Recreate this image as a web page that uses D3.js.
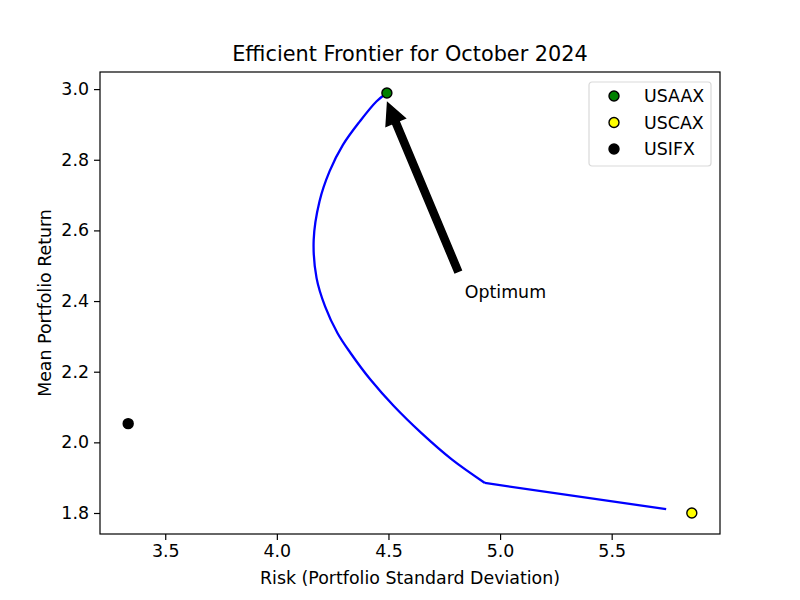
<!DOCTYPE html>
<html>
<head>
<meta charset="utf-8">
<script src="https://cdnjs.cloudflare.com/ajax/libs/d3/7.8.5/d3.min.js"></script>
<style>
  body { margin: 0; background: #fff; }
  text { font-family: "DejaVu Sans", sans-serif; fill: #000; }
</style>
</head>
<body>
<div id="chart"></div>
<script>
// frontier (risk, return); the last point is joined by a straight segment
var frontierRisk   = [4.493, 4.446, 4.371, 4.296, 4.236, 4.191, 4.165, 4.178, 4.216, 4.272, 4.330, 4.420, 4.525, 4.648, 4.785, 4.932, 5.744];
var frontierReturn = [2.989, 2.965, 2.908, 2.842, 2.767, 2.682, 2.573, 2.465, 2.385, 2.309, 2.253, 2.177, 2.102, 2.026, 1.951, 1.885, 1.811];

// single funds
var funds      = ["USAAX", "USCAX", "USIFX"];
var fundRisk   = [4.493, 5.859, 3.334];
var fundReturn = [2.989, 1.800, 2.053];
var fundColors = ["green", "yellow", "black"];

var xTicks = [3.5, 4.0, 4.5, 5.0, 5.5];
var yTicks = [1.8, 2.0, 2.2, 2.4, 2.6, 2.8, 3.0];

// annotation: arrow tail / tip and label position
var arrowFrom = [4.812, 2.484];
var arrowTo   = [4.496, 2.961];
var optimumText = [4.842, 2.409];

var margin = {top: 72, right: 80, bottom: 66, left: 100},
    width = 800 - margin.left - margin.right,
    height = 600 - margin.top - margin.bottom;

var fs = 17.4; // 10pt at 125 dpi

var svg = d3.select("#chart")
  .append("svg")
    .attr("width", 800)
    .attr("height", 600)
  .append("g")
    .attr("transform", "translate(" + margin.left + "," + margin.top + ")");

// matplotlib style 5% padding around the data
var allX = frontierRisk.concat(fundRisk),
    allY = frontierReturn.concat(fundReturn);
var xMin = d3.min(allX), xMax = d3.max(allX),
    yMin = d3.min(allY), yMax = d3.max(allY);
var xPad = (xMax - xMin) * 0.05, yPad = (yMax - yMin) * 0.05;

var x = d3.scaleLinear().domain([xMin - xPad, xMax + xPad]).range([0, width]);
var y = d3.scaleLinear().domain([yMin - yPad, yMax + yPad]).range([height, 0]);

// axes
var xAxis = svg.append("g")
  .attr("transform", "translate(0," + height + ")")
  .call(d3.axisBottom(x).tickValues(xTicks).tickFormat(d3.format(".1f")).tickSize(6).tickPadding(5));
var yAxis = svg.append("g")
  .call(d3.axisLeft(y).tickValues(yTicks).tickFormat(d3.format(".1f")).tickSize(6).tickPadding(5));
[xAxis, yAxis].forEach(function(a) {
  a.select(".domain").remove();
  a.selectAll("text").style("font-size", fs + "px").style("font-family", "'DejaVu Sans', sans-serif");
  a.selectAll("line").attr("stroke", "#000").attr("stroke-width", 1.2);
});

// frontier: smooth part plus the straight last segment
var pts = frontierRisk.map(function(d, i) { return [d, frontierReturn[i]]; });
var n = pts.length;
var lineSmooth = d3.line().curve(d3.curveCatmullRom.alpha(0.5))
  .x(function(d) { return x(d[0]); }).y(function(d) { return y(d[1]); });
var lineStraight = d3.line()
  .x(function(d) { return x(d[0]); }).y(function(d) { return y(d[1]); });
svg.append("path")
  .datum(pts.slice(0, n - 1))
  .attr("fill", "none")
  .attr("stroke", "#0000ff")
  .attr("stroke-width", 2.3)
  .attr("d", lineSmooth);
svg.append("path")
  .datum(pts.slice(n - 2))
  .attr("fill", "none")
  .attr("stroke", "#0000ff")
  .attr("stroke-width", 2.3)
  .attr("stroke-linejoin", "round")
  .attr("d", lineStraight);

// fund points
svg.selectAll("circle.fund")
  .data(funds)
  .enter()
  .append("circle")
    .attr("class", "fund")
    .attr("cx", function(d, i) { return x(fundRisk[i]); })
    .attr("cy", function(d, i) { return y(fundReturn[i]); })
    .attr("r", 5)
    .attr("fill", function(d, i) { return fundColors[i]; })
    .attr("stroke", "#000")
    .attr("stroke-width", 1.4);

// arrow for the optimum
var ax0 = x(arrowFrom[0]), ay0 = y(arrowFrom[1]),
    ax1 = x(arrowTo[0]), ay1 = y(arrowTo[1]);
var len = Math.sqrt((ax1 - ax0) * (ax1 - ax0) + (ay1 - ay0) * (ay1 - ay0));
var ang = Math.atan2(ay1 - ay0, ax1 - ax0) * 180 / Math.PI;
var sw = 3.5, hw = 10.4, hl = 21;
svg.append("path")
  .attr("transform", "translate(" + ax0 + "," + ay0 + ") rotate(" + ang + ")")
  .attr("d", "M0," + (-sw) + "L" + (len - hl) + "," + (-sw) + "L" + (len - hl) + "," + (-hw) +
             "L" + len + ",0L" + (len - hl) + "," + hw + "L" + (len - hl) + "," + sw + "L0," + sw + "Z")
  .attr("fill", "#000")
  .attr("stroke", "#000")
  .attr("stroke-width", 1.5);

svg.append("text")
  .attr("x", x(optimumText[0]))
  .attr("y", y(optimumText[1]))
  .style("font-size", fs + "px")
  .text("Optimum");

// frame
svg.append("rect")
  .attr("width", width)
  .attr("height", height)
  .attr("fill", "none")
  .attr("stroke", "#000")
  .attr("stroke-width", 1.2);

// titles
svg.append("text")
  .attr("x", width / 2)
  .attr("y", -11)
  .attr("text-anchor", "middle")
  .style("font-size", "20.8px")
  .text("Efficient Frontier for October 2024");

svg.append("text")
  .attr("x", width / 2)
  .attr("y", height + 50)
  .attr("text-anchor", "middle")
  .style("font-size", fs + "px")
  .text("Risk (Portfolio Standard Deviation)");

svg.append("text")
  .attr("transform", "translate(-49," + (height / 2) + ") rotate(-90)")
  .attr("text-anchor", "middle")
  .style("font-size", fs + "px")
  .text("Mean Portfolio Return");

// legend
var legend = svg.append("g").attr("transform", "translate(" + (width - 131) + ",10)");
legend.append("rect")
  .attr("width", 122)
  .attr("height", 84)
  .attr("rx", 3)
  .attr("fill", "#fff")
  .attr("fill-opacity", 0.8)
  .attr("stroke", "#d9d9d9")
  .attr("stroke-width", 1.2);
var items = legend.selectAll("g.item")
  .data(funds)
  .enter()
  .append("g")
    .attr("class", "item")
    .attr("transform", function(d, i) { return "translate(0," + (14 + i * 26.5) + ")"; });
items.append("circle")
  .attr("cx", 25)
  .attr("r", 5)
  .attr("fill", function(d, i) { return fundColors[i]; })
  .attr("stroke", "#000")
  .attr("stroke-width", 1.4);
items.append("text")
  .attr("x", 55)
  .attr("dy", "0.35em")
  .style("font-size", fs + "px")
  .text(function(d) { return d; });
</script>
</body>
</html>
